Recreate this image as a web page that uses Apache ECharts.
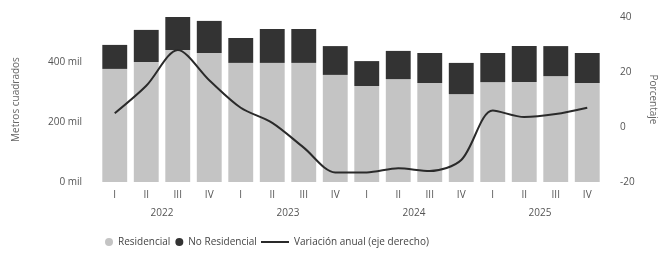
<!DOCTYPE html>
<html><head><meta charset="utf-8">
<script src="https://cdn.jsdelivr.net/npm/echarts@6/dist/echarts.min.js"></script>
<style>html,body{margin:0;padding:0;background:#fff}#c{width:666px;height:257px}</style>
</head><body><div id="c"></div>
<script>
const quarters = ['I','II','III','IV','I','II','III','IV','I','II','III','IV','I','II','III','IV'];
const years = ['2022','2023','2024','2025'];
const residencial = [377,400,440,430,397,397,397,357,320,343,330,293,333,333,353,330];
const total = [457,507,550,537,480,510,510,453,403,437,430,397,430,453,453,430];
const noResidencial = total.map((t,i)=>t-residencial[i]);
const variacion = [5,15,28,17,7,1.5,-7.5,-16.5,-16.5,-15,-16,-12,6,3.6,4.7,7];

const chart = echarts.init(document.getElementById('c'));
const txt = {color:'#555', fontFamily:'Open Sans', fontSize:10};
const legText = {color:'#444',fontFamily:'Open Sans',fontSize:10};
chart.setOption({
  animation:false,
  grid:{left:99,right:60,top:17,bottom:75},
  legend:[
    {bottom:5,left:100,itemGap:5,itemWidth:8,itemHeight:8,textStyle:legText,
     data:[{name:'Residencial',icon:'circle'},{name:'No Residencial',icon:'circle'}]},
    {bottom:5,left:256,itemWidth:28,itemHeight:2,textStyle:legText,
     data:[{name:'Variación anual (eje derecho)',icon:'rect',itemStyle:{color:'#2a2a2a'}}]}
  ],
  xAxis:[
    {type:'category',data:quarters,axisLine:{show:false},axisTick:{show:false},
     axisLabel:Object.assign({margin:8},txt)},
    {type:'category',data:years,position:'bottom',offset:18,axisLine:{show:false},axisTick:{show:false},
     axisLabel:Object.assign({margin:8},txt)}
  ],
  yAxis:[
    {type:'value',min:0,max:550,interval:200,splitLine:{show:false},
     axisLabel:Object.assign({margin:17,showMaxLabel:false,formatter:v=>v+' mil'},txt),
     name:'Metros cuadrados',nameLocation:'middle',nameGap:78,nameTextStyle:{color:'#666',fontFamily:'Open Sans',fontSize:10}},
    {type:'value',min:-20,max:40,interval:20,splitLine:{show:false},
     axisLabel:Object.assign({margin:17},txt),
     name:'Porcentaje',nameLocation:'middle',nameGap:45,nameRotate:-90,nameTextStyle:{color:'#666',fontFamily:'Open Sans',fontSize:10}}
  ],
  series:[
    {name:'Residencial',type:'bar',stack:'a',data:residencial,barCategoryGap:'21%',itemStyle:{color:'#c4c4c4'}},
    {name:'No Residencial',type:'bar',stack:'a',data:noResidencial,itemStyle:{color:'#333333'}},
    {name:'Variación anual (eje derecho)',type:'line',yAxisIndex:1,data:variacion,smooth:0.3,
     symbol:'none',lineStyle:{color:'#2a2a2a',width:2},itemStyle:{color:'#2a2a2a'}}
  ]
});
</script></body></html>
